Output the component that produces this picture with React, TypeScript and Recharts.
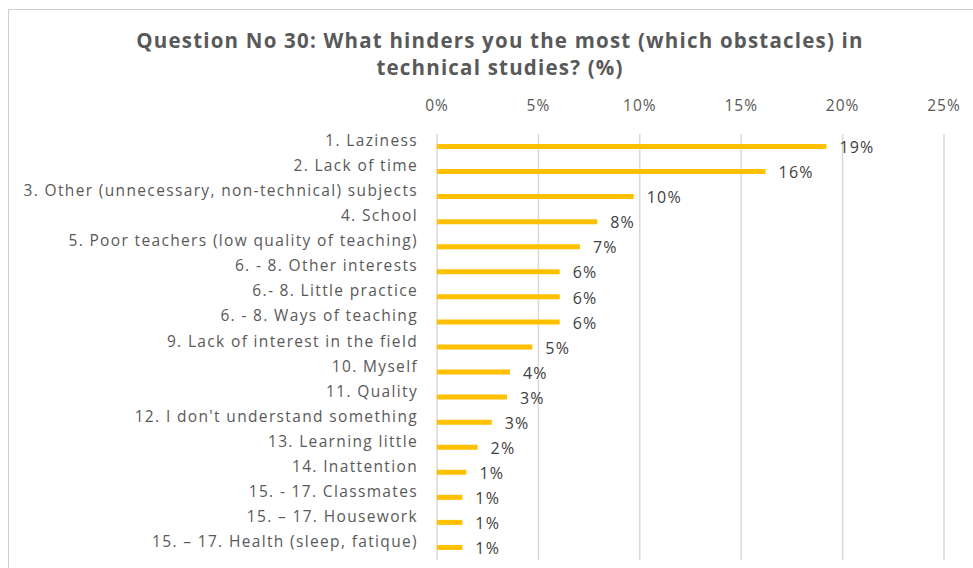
import { BarChart, Bar, XAxis, YAxis, CartesianGrid, LabelList } from 'recharts';

// Categorías y porcentajes
const categories = [
  '1. Laziness',
  '2. Lack of time',
  '3. Other (unnecessary, non-technical) subjects',
  '4. School',
  '5. Poor teachers (low quality of teaching)',
  '6. - 8. Other interests',
  '6.- 8. Little practice',
  '6. - 8. Ways of teaching',
  '9. Lack of interest in the field',
  '10. Myself',
  '11. Quality',
  "12. I don't understand something",
  '13. Learning little',
  '14. Inattention',
  '15. - 17. Classmates',
  '15. \u2013 17. Housework',
  '15. \u2013 17. Health (sleep, fatique)',
];

const values = [19.2, 16.2, 9.7, 7.9, 7.05, 6.05, 6.05, 6.05, 4.7, 3.6, 3.45, 2.7, 2.0, 1.45, 1.25, 1.25, 1.25];

const xTicks = [0, 5, 10, 15, 20, 25];

const data = categories.map((name, i) => ({ name, value: values[i] }));

const FONT = '"Open Sans", sans-serif';

// Etiqueta de categoría un poco por encima de la barra
function CategoryTick(props: any) {
  const { x, y, payload } = props;
  return (
    <text
      x={x}
      y={y - 6}
      dy="0.355em"
      textAnchor="end"
      fill="#595959"
      fontSize={15.5}
      letterSpacing={1.35}
      fontFamily={FONT}
    >
      {payload.value}
    </text>
  );
}

export default function App() {
  return (
    <div
      style={{
        position: 'fixed',
        left: 0,
        top: 0,
        width: 973,
        height: 568,
        background: '#fff',
        overflow: 'hidden',
      }}
    >
      {/* marco gris del gráfico */}
      <div
        style={{
          position: 'absolute',
          left: 8,
          top: 9,
          width: 1000,
          height: 600,
          borderLeft: '1.5px solid #CFCFCF',
          borderTop: '1.5px solid #CFCFCF',
        }}
      />
      <div
        style={{
          position: 'absolute',
          left: 0,
          top: 27,
          width: 1000,
          textAlign: 'center',
          fontFamily: FONT,
          fontWeight: 700,
          fontSize: 20.5,
          letterSpacing: 1.2,
          lineHeight: '27px',
          color: '#595959',
        }}
      >
        Question No 30: What hinders you the most (which obstacles) in
        <br />
        technical studies? (%)
      </div>
      <div style={{ position: 'absolute', left: 0, top: 0 }}>
        <BarChart
          width={973}
          height={568}
          data={data}
          layout="vertical"
          margin={{ top: 84, right: 29, bottom: 8, left: 0 }}
          barCategoryGap={0}
        >
          <CartesianGrid horizontal={false} stroke="#D9D9D9" strokeWidth={1.5} />
          <XAxis
            type="number"
            orientation="top"
            domain={[0, 25]}
            ticks={xTicks}
            tickFormatter={(v: any) => `${v}%`}
            axisLine={false}
            tickLine={false}
            tickSize={0}
            tickMargin={23}
            height={50}
            tick={{ fill: '#595959', fontSize: 15.5, letterSpacing: 1, fontFamily: FONT }}
            interval={0}
          />
          <YAxis
            type="category"
            dataKey="name"
            width={437}
            axisLine={false}
            tickLine={false}
            tickSize={0}
            tickMargin={19}
            interval={0}
            tick={<CategoryTick />}
          />
          <Bar dataKey="value" fill="#FFC000" barSize={5} isAnimationActive={false}>
            <LabelList
              dataKey="value"
              position="right"
              offset={13}
              formatter={(v: any) => `${Math.round(Number(v))}%`}
              fill="#404040"
              fontSize={16}
              letterSpacing={1.2}
              fontFamily={FONT}
              dy={1}
            />
          </Bar>
        </BarChart>
      </div>
    </div>
  );
}
